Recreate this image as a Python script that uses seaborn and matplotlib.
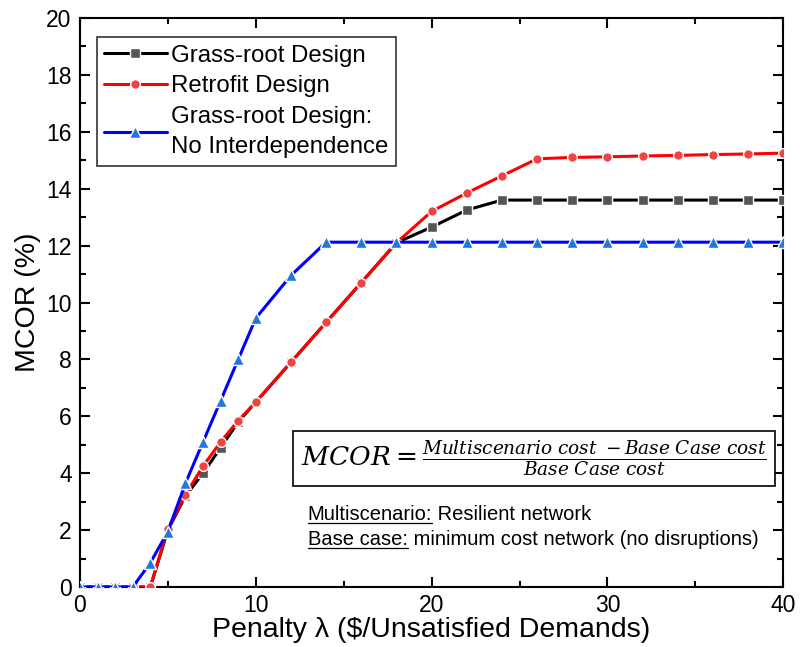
import numpy as np
import pandas as pd
import matplotlib
matplotlib.use("Agg")
import matplotlib.pyplot as plt
import seaborn as sns
from matplotlib.ticker import MultipleLocator

penalty = [0, 1, 2, 3, 4, 5, 6, 7, 8, 9, 10, 12, 14, 16, 18, 20, 22, 24, 26, 28, 30, 32, 34, 36, 38, 40]
grass_root = [0, 0, 0, 0, 0, 2.0, 3.2, 4.0, 4.9, 5.8, 6.5, 7.9, 9.3, 10.7, 12.1, 12.65, 13.25, 13.6,
              13.6, 13.6, 13.6, 13.6, 13.6, 13.6, 13.6, 13.6]
retrofit = [0, 0, 0, 0, 0, 2.05, 3.25, 4.25, 5.1, 5.85, 6.5, 7.9, 9.3, 10.7, 12.1, 13.2, 13.85, 14.45,
            15.05, 15.1, 15.12, 15.15, 15.17, 15.2, 15.22, 15.25]
no_interdep = [0, 0, 0, 0, 0.85, 1.95, 3.65, 5.1, 6.55, 8.0, 9.45, 10.95, 12.12, 12.12, 12.12, 12.12,
               12.12, 12.12, 12.12, 12.12, 12.12, 12.12, 12.12, 12.12, 12.12, 12.12]
series_names = ["Grass-root Design", "Retrofit Design", "Grass-root Design:\nNo Interdependence"]

sns.set_style("ticks")
plt.rcParams['font.family'] = ['Liberation Sans', 'DejaVu Sans']
plt.rcParams['mathtext.fontset'] = 'dejavuserif'
for k in ["text.color", "axes.labelcolor", "xtick.color", "ytick.color", "axes.edgecolor"]:
    plt.rcParams[k] = "black"

fig = plt.figure(figsize=(8, 6.47), dpi=100)
ax = fig.add_axes([0.1, 0.0927, 0.879, 0.8795])

styles = [
    dict(color="black", marker="s", mfc="#555555", ms=6.5),
    dict(color="#ff0000", marker="o", mfc="#ee4444", ms=7),
    dict(color="#0000ff", marker="^", mfc="#2277dd", ms=8),
]
for name, vals, st in zip(series_names, [grass_root, retrofit, no_interdep], styles):
    df = pd.DataFrame({"x": penalty, "y": vals})
    sns.lineplot(data=df, x="x", y="y", ax=ax, color=st["color"], lw=2.2,
                 marker=st["marker"], markersize=st["ms"], markerfacecolor=st["mfc"],
                 markeredgecolor="white", markeredgewidth=1.0, label=name, zorder=3)

ax.set_xlim(0, 40)
ax.set_ylim(0, 20)
ax.xaxis.set_major_locator(MultipleLocator(10))
ax.xaxis.set_minor_locator(MultipleLocator(5))
ax.yaxis.set_major_locator(MultipleLocator(2))
ax.yaxis.set_minor_locator(MultipleLocator(1))
ax.tick_params(which="both", direction="in", top=True, right=True, width=1.5)
ax.tick_params(which="major", length=7, labelsize=16.5)
ax.tick_params(which="minor", length=4)
ax.tick_params(axis="x", which="major", pad=5)
ax.tick_params(axis="y", which="major", pad=6)
for s in ax.spines.values():
    s.set_linewidth(1.5)
    s.set_visible(True)

ax.set_xlabel("Penalty λ ($/Unsatisfied Demands)", fontsize=20.5, labelpad=0)
ax.set_ylabel("MCOR (%)", fontsize=20.5, labelpad=4)

leg = ax.legend(loc="upper left", bbox_to_anchor=(0.024, 0.966), fontsize=17.3, frameon=True,
                fancybox=False, edgecolor="black", handlelength=2.6, handletextpad=0.2,
                borderpad=0.3, labelspacing=0.36, borderaxespad=0)
leg.get_frame().set_linewidth(1.2)
for t in leg.get_texts():
    t.set_linespacing(1.5)

# formula box
ax.text(0.646, 0.226,
        r"$MCOR = \frac{Multiscenario\ cost\ -Base\ Case\ cost}{Base\ Case\ cost}$",
        transform=ax.transAxes, fontsize=19, va="center", ha="center",
        bbox=dict(boxstyle="square,pad=0.3", fc="white", ec="black", lw=1.2))

fig.canvas.draw()
renderer = fig.canvas.get_renderer()
lines_txt = [("Multiscenario:", " Resilient network", 0.117),
             ("Base case:", " minimum cost network (no disruptions)", 0.073)]
x0 = 0.324
for under, rest, y in lines_txt:
    t1 = ax.text(x0, y, under, transform=ax.transAxes, fontsize=14.5, va="baseline", ha="left")
    fig.canvas.draw()
    bb = t1.get_window_extent(renderer).transformed(ax.transAxes.inverted())
    ax.text(bb.x1, y, rest, transform=ax.transAxes, fontsize=14.5, va="baseline", ha="left")
    ax.plot([bb.x0, bb.x1], [y - 0.005, y - 0.005], transform=ax.transAxes, color="black",
            lw=0.9, clip_on=False)

fig.savefig("out.png", dpi=100)
